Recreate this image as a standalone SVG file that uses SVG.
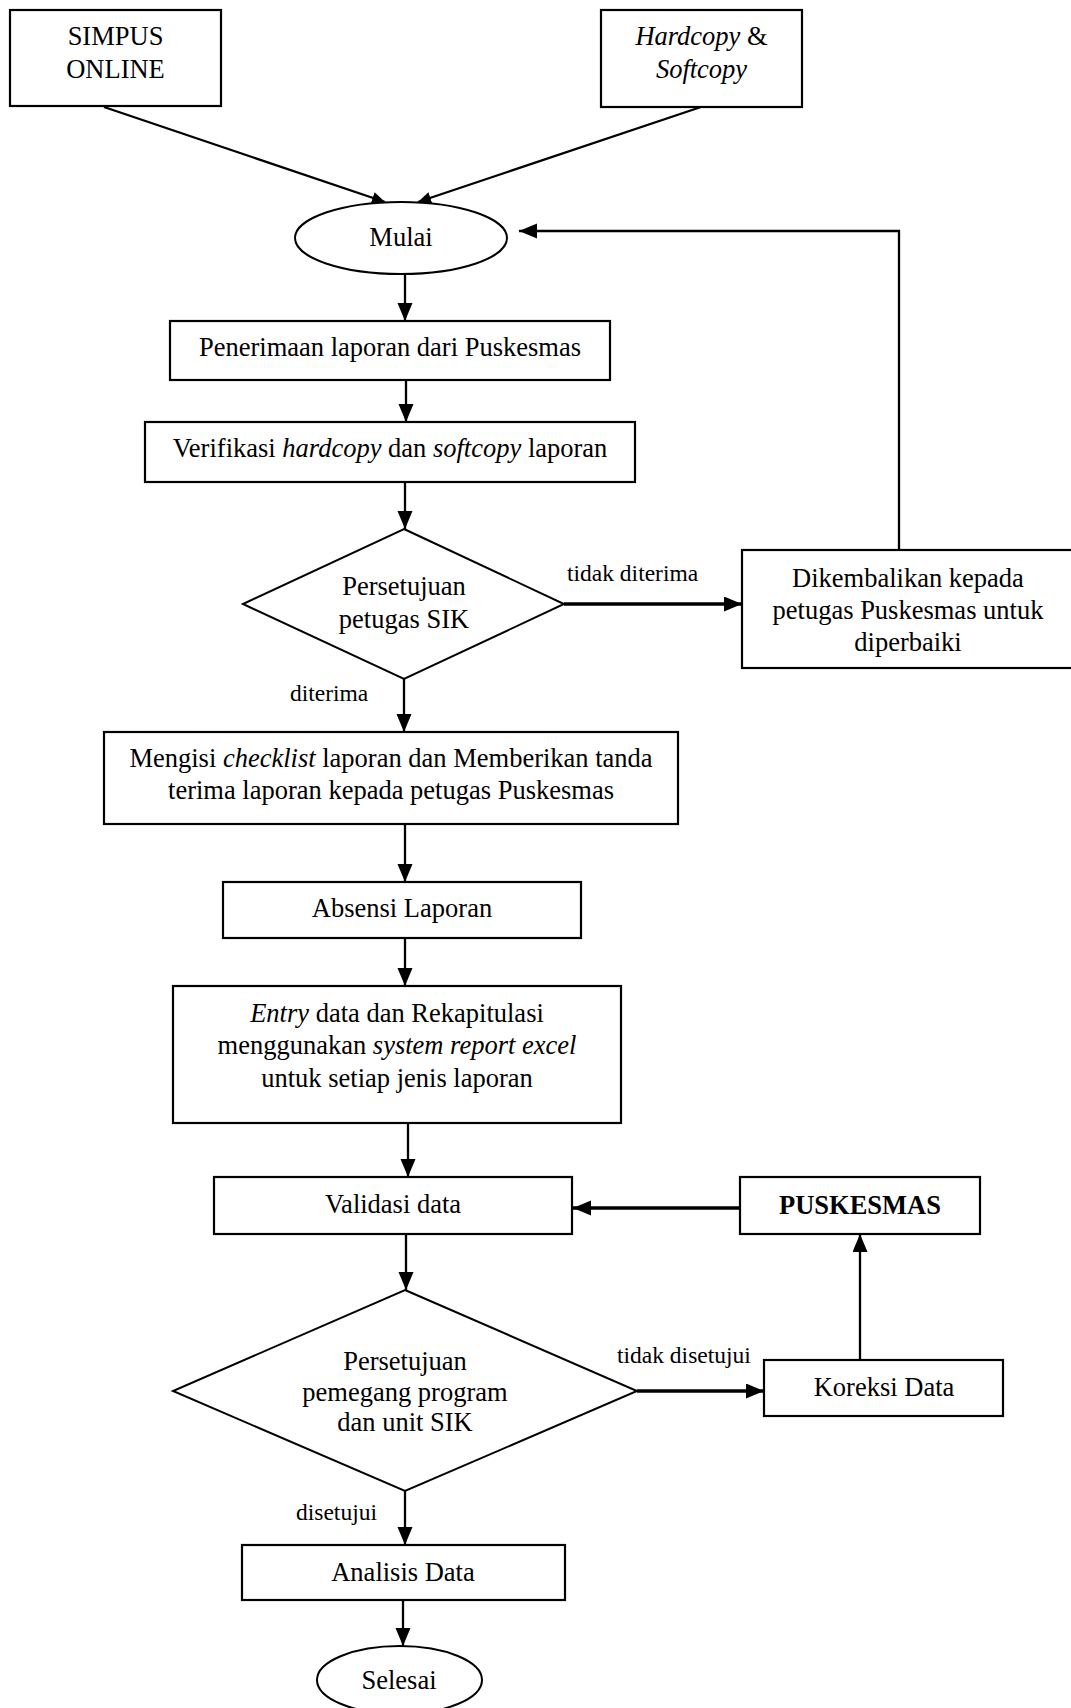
<svg xmlns="http://www.w3.org/2000/svg" width="1071" height="1708" viewBox="0 0 1071 1708">
<style>
.box{fill:#fff;stroke:#000;stroke-width:2.2}
.shape{fill:#fff;stroke:#000;stroke-width:2}
.t{font-family:"Liberation Serif","Times New Roman",serif;font-size:26.5px;fill:#000;text-anchor:middle}
.lbl{font-family:"Liberation Serif","Times New Roman",serif;font-size:23.5px;fill:#000}
.c{fill:none;stroke:#000;stroke-width:2.3}
.thick{stroke-width:3.3}
.i{font-style:italic}
</style>
<defs>
<marker id="arr" markerUnits="userSpaceOnUse" markerWidth="19" markerHeight="16" refX="18" refY="7.5" orient="auto">
<path d="M0,0 L18,7.5 L0,15 z" fill="#000"/>
</marker>
<marker id="arrs" markerUnits="userSpaceOnUse" markerWidth="14" markerHeight="13" refX="13" refY="6" orient="auto">
<path d="M0,0 L13,6 L0,12 z" fill="#000"/>
</marker>
</defs>

<g id="connectors">
<path class="c" d="M104,107 L385,202" marker-end="url(#arrs)"/>
<path class="c" d="M701,107 L418,202" marker-end="url(#arrs)"/>
<path class="c" d="M405,274 L405,321" marker-end="url(#arr)"/>
<path class="c" d="M406,380 L406,422" marker-end="url(#arr)"/>
<path class="c" d="M405,482 L405,529" marker-end="url(#arr)"/>
<path class="c thick" d="M564,604 L742,604" marker-end="url(#arr)"/>
<path class="c" d="M899,550 L899,231 L519,231" marker-end="url(#arr)"/>
<path class="c" d="M404,679 L404,732" marker-end="url(#arr)"/>
<path class="c" d="M405,824 L405,882" marker-end="url(#arr)"/>
<path class="c" d="M405,938 L405,986" marker-end="url(#arr)"/>
<path class="c" d="M408,1123 L408,1177" marker-end="url(#arr)"/>
<path class="c thick" d="M740,1208 L573,1208" marker-end="url(#arr)"/>
<path class="c" d="M406,1234 L406,1290" marker-end="url(#arr)"/>
<path class="c thick" d="M637,1391 L764,1391" marker-end="url(#arr)"/>
<path class="c" d="M860,1360 L860,1234" marker-end="url(#arr)"/>
<path class="c" d="M405,1491 L405,1545" marker-end="url(#arr)"/>
<path class="c" d="M403,1600 L403,1646" marker-end="url(#arr)"/>
</g>

<g id="labels">
<text class="lbl" x="567" y="581">tidak diterima</text>
<text class="lbl" x="290" y="701">diterima</text>
<text class="lbl" x="617" y="1363">tidak disetujui</text>
<text class="lbl" x="296" y="1520">disetujui</text>
</g>

<g id="simpus">
<rect class="box" x="10" y="10" width="211" height="96"/>
<text class="t" x="115.5" y="45">SIMPUS</text>
<text class="t" x="115.5" y="78">ONLINE</text>
</g>

<g id="hardcopy">
<rect class="box" x="601" y="10" width="201" height="97"/>
<text class="t" x="701.5" y="45"><tspan class="i">Hardcopy</tspan> &amp;</text>
<text class="t i" x="701.5" y="78">Softcopy</text>
</g>

<g id="mulai">
<ellipse class="shape" cx="401" cy="238" rx="106" ry="36"/>
<text class="t" x="401" y="246">Mulai</text>
</g>

<g id="penerimaan">
<rect class="box" x="170" y="321" width="440" height="59"/>
<text class="t" x="390" y="356">Penerimaan laporan dari Puskesmas</text>
</g>

<g id="verifikasi">
<rect class="box" x="145" y="422" width="490" height="60"/>
<text class="t" x="390" y="457">Verifikasi <tspan class="i">hardcopy</tspan> dan <tspan class="i">softcopy</tspan> laporan</text>
</g>

<g id="persetujuan1">
<polygon class="shape" points="404,529 564,604 404,679 243,604"/>
<text class="t" x="404" y="595">Persetujuan</text>
<text class="t" x="404" y="628">petugas SIK</text>
</g>

<g id="dikembalikan">
<rect class="box" x="742" y="550" width="332" height="118"/>
<text class="t" x="908" y="587">Dikembalikan kepada</text>
<text class="t" x="908" y="619">petugas Puskesmas untuk</text>
<text class="t" x="908" y="651">diperbaiki</text>
</g>

<g id="mengisi">
<rect class="box" x="104" y="732" width="574" height="92"/>
<text class="t" x="391" y="767">Mengisi <tspan class="i">checklist</tspan> laporan dan Memberikan tanda</text>
<text class="t" x="391" y="799">terima laporan kepada petugas Puskesmas</text>
</g>

<g id="absensi">
<rect class="box" x="223" y="882" width="358" height="56"/>
<text class="t" x="402" y="917">Absensi Laporan</text>
</g>

<g id="entry">
<rect class="box" x="173" y="986" width="448" height="137"/>
<text class="t" x="397" y="1022"><tspan class="i">Entry</tspan> data dan Rekapitulasi</text>
<text class="t" x="397" y="1054">menggunakan <tspan class="i">system report excel</tspan></text>
<text class="t" x="397" y="1087">untuk setiap jenis laporan</text>
</g>

<g id="validasi">
<rect class="box" x="214" y="1177" width="358" height="57"/>
<text class="t" x="393" y="1213">Validasi data</text>
</g>

<g id="puskesmas">
<rect class="box" x="740" y="1177" width="240" height="57"/>
<text class="t" x="860" y="1214" font-weight="bold">PUSKESMAS</text>
</g>

<g id="persetujuan2">
<polygon class="shape" points="405,1290 637,1391 405,1491 173,1391"/>
<text class="t" x="405" y="1370">Persetujuan</text>
<text class="t" x="405" y="1401">pemegang program</text>
<text class="t" x="405" y="1431">dan unit SIK</text>
</g>

<g id="koreksi">
<rect class="box" x="764" y="1360" width="239" height="56"/>
<text class="t" x="884" y="1396">Koreksi Data</text>
</g>

<g id="analisis">
<rect class="box" x="242" y="1545" width="323" height="55"/>
<text class="t" x="403" y="1581">Analisis Data</text>
</g>

<g id="selesai">
<ellipse class="shape" cx="399.5" cy="1680" rx="82.5" ry="34"/>
<text class="t" x="399" y="1689">Selesai</text>
</g>
</svg>
